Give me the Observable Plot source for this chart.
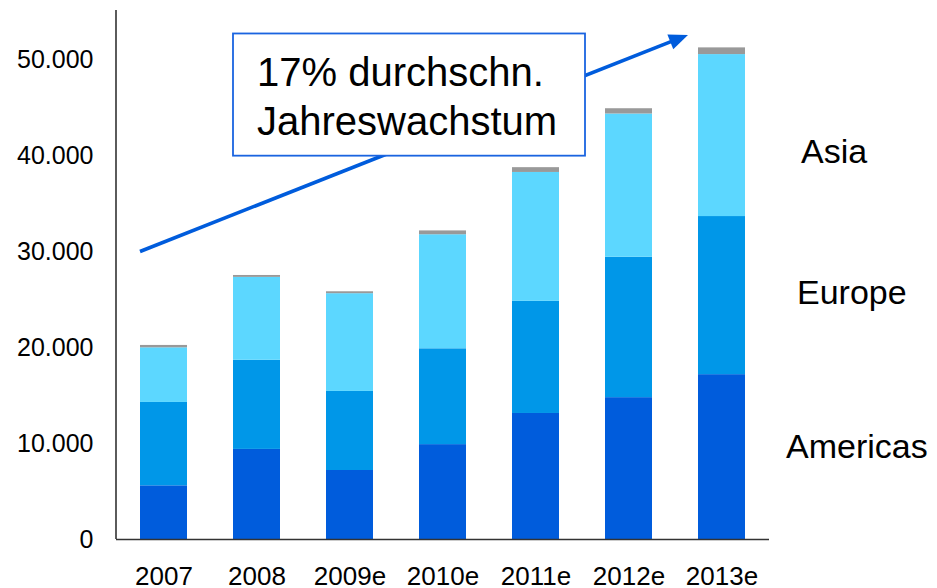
<!DOCTYPE html>
<html>
<head>
<meta charset="utf-8">
<script src="https://cdn.jsdelivr.net/npm/d3@7"></script>
<script src="https://cdn.jsdelivr.net/npm/@observablehq/plot@0.6"></script>
<style>
  body { margin: 0; background: #fff; }
  #chart svg { display: block; }
</style>
</head>
<body>
<div id="chart"></div>
<script>
// ---- data ----
const years = ["2007", "2008", "2009e", "2010e", "2011e", "2012e", "2013e"];
const regions = ["Americas", "Europe", "Asia", "Other"];
const americas = [5600, 9400, 7200, 9900, 13150, 14800, 17200];
const europe   = [8700, 9300, 8250, 10000, 11700, 14650, 16500];
const asia     = [5700, 8650, 10200, 11900, 13450, 14950, 16900];
const other    = [250, 200, 200, 400, 500, 550, 700];
const yTicks = [0, 10000, 20000, 30000, 40000, 50000];
const legendLabels = ["Asia", "Europe", "Americas"];
const annotationLines = ["17% durchschn.", "Jahreswachstum"];

// ---- layout / style ----
const colors = ["#005CDC", "#0097E8", "#5CD7FF", "#999999"];
const font = "'Liberation Sans', Arial, Helvetica, sans-serif";
const blue = "#005CDC";
const W = 937, H = 588;
const M = {top: 10, right: 168, bottom: 49, left: 116};

const series = {Americas: americas, Europe: europe, Asia: asia, Other: other};
const table = years.flatMap((year, i) =>
  regions.map(region => ({year, region, value: series[region][i]})));

// legend label placement (baseline in data units, offset from last bar)
const legendPos = {
  Asia: {y: 39270, dx: 56},
  Europe: {y: 24490, dx: 52},
  Americas: {y: 8480, dx: 41}
};

function annotations(index, scales, values, dimensions) {
  const x = scales.x, y = scales.y;
  const bw = typeof x.bandwidth === "function" ? x.bandwidth() : 46.7;
  const g = d3.create("svg:g").attr("font-family", font).attr("text-anchor", "start");

  // y axis line
  g.append("line")
    .attr("x1", dimensions.marginLeft).attr("x2", dimensions.marginLeft)
    .attr("y1", dimensions.marginTop).attr("y2", dimensions.height - dimensions.marginBottom)
    .attr("stroke", "#333").attr("stroke-width", 1.6);

  // growth arrow
  const x0 = x(years[0]), y0 = y(30000);
  const x1 = x(years[years.length - 1]) - 10, y1 = y(52600);
  const ang = Math.atan2(y1 - y0, x1 - x0);
  const L = 19, hw = 8;
  const bx = x1 - L * Math.cos(ang), by = y1 - L * Math.sin(ang);
  g.append("line")
    .attr("x1", x0).attr("y1", y0).attr("x2", bx + 2 * Math.cos(ang)).attr("y2", by + 2 * Math.sin(ang))
    .attr("stroke", blue).attr("stroke-width", 3.6);
  g.append("path")
    .attr("d", `M${x1},${y1}L${bx - hw * Math.sin(ang)},${by + hw * Math.cos(ang)}L${bx + hw * Math.sin(ang)},${by - hw * Math.cos(ang)}Z`)
    .attr("fill", blue);

  // annotation box
  const rx = x("2008"), ry = y(52750);
  const rw = x("2011e") + bw + 26 - rx, rh = y(40000) - ry;
  g.append("rect")
    .attr("x", rx).attr("y", ry).attr("width", rw).attr("height", rh)
    .attr("fill", "#fff").attr("stroke", "#1A64E0").attr("stroke-width", 1.8);
  annotationLines.forEach((t, i) => {
    g.append("text")
      .attr("x", rx + 24).attr("y", ry + 53 + i * 48.5)
      .attr("text-anchor", "start")
      .attr("font-size", 40).attr("fill", "#000")
      .text(t);
  });

  // legend labels
  const lastRight = x(years[years.length - 1]) + bw;
  legendLabels.forEach(name => {
    const p = legendPos[name];
    g.append("text")
      .attr("x", lastRight + p.dx).attr("y", y(p.y))
      .attr("text-anchor", "start")
      .attr("font-size", 34).attr("fill", "#000")
      .text(name);
  });
  return g.node();
}

const chart = Plot.plot({
  width: W,
  height: H,
  marginTop: M.top,
  marginRight: M.right,
  marginBottom: M.bottom,
  marginLeft: M.left,
  style: {fontFamily: font, color: "#000", background: "#fff", overflow: "visible"},
  x: {domain: years, paddingInner: 0.5, paddingOuter: 0.25, axis: null, label: null},
  y: {domain: [0, 55200], axis: null, label: null},
  color: {domain: regions, range: colors},
  marks: [
    Plot.barY(table, {x: "year", y: "value", fill: "region"}),
    Plot.ruleY([0], {stroke: "#333", strokeWidth: 1.6}),
    Plot.axisY({ticks: yTicks, tickFormat: d => d.toLocaleString("de-DE"), tickSize: 0, tickPadding: 23, fontSize: 25, fill: "#000", label: null}),
    Plot.axisX({tickSize: 0, tickPadding: 27, fontSize: 26, fill: "#000", label: null}),
    annotations
  ]
});
document.getElementById("chart").appendChild(chart);
</script>
</body>
</html>
